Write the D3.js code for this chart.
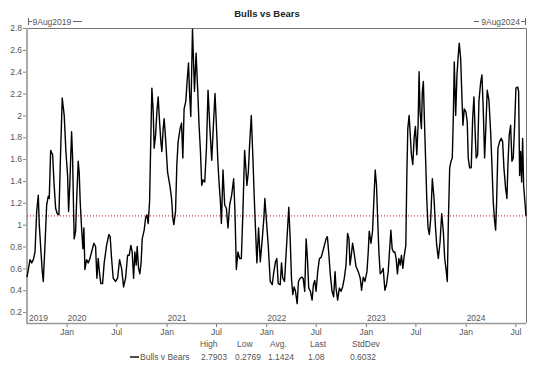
<!DOCTYPE html>
<html>
<head>
<meta charset="utf-8">
<script src="https://cdn.jsdelivr.net/npm/d3@7"></script>
<style>
  body { margin: 0; background: #fff; }
  svg { display: block; font-family: "Liberation Sans", Arial, sans-serif; }
</style>
</head>
<body>
<svg id="chart" width="534" height="370"></svg>
<script>
// time in decimal years
const t2019 = [2019.603, 2019.633, 2019.650, 2019.666, 2019.683, 2019.700, 2019.716, 2019.726, 2019.743, 2019.756,
  2019.766, 2019.783, 2019.800, 2019.816, 2019.826, 2019.840, 2019.860, 2019.873, 2019.890, 2019.906,
  2019.923, 2019.940, 2019.956, 2019.976, 2019.993];
const v2019 = [0.52, 0.68, 0.65, 0.68, 0.75, 1.12, 1.27, 1.0, 0.75, 0.57,
  0.48, 0.81, 1.18, 1.26, 1.24, 1.68, 1.64, 1.39, 1.15, 1.10,
  1.09, 1.67, 2.16, 2.0, 1.67];

const t2020 = [2020.010, 2020.020, 2020.033, 2020.050, 2020.060, 2020.070, 2020.076, 2020.090, 2020.100, 2020.116,
  2020.126, 2020.136, 2020.150, 2020.163, 2020.173, 2020.183, 2020.200, 2020.216, 2020.233, 2020.250,
  2020.273, 2020.290, 2020.303, 2020.316, 2020.330, 2020.343, 2020.360, 2020.376, 2020.400, 2020.423,
  2020.436, 2020.450, 2020.466, 2020.490, 2020.510, 2020.530, 2020.550, 2020.570, 2020.590, 2020.610,
  2020.626, 2020.643, 2020.656, 2020.670, 2020.683, 2020.696, 2020.706, 2020.720, 2020.733, 2020.746,
  2020.756, 2020.776, 2020.790, 2020.803, 2020.816, 2020.830, 2020.840, 2020.853, 2020.866, 2020.876,
  2020.890, 2020.903, 2020.916, 2020.930, 2020.943, 2020.953, 2020.966, 2020.976, 2020.990];
const v2020 = [1.45, 1.12, 1.39, 1.85, 1.61, 1.12, 0.87, 0.94, 1.21, 1.58,
  1.48, 1.21, 0.97, 0.78, 0.97, 0.59, 0.68, 0.65, 0.69, 0.75,
  0.83, 0.80, 0.51, 0.69, 0.55, 0.46, 0.46, 0.65, 0.81, 0.91,
  0.89, 0.69, 0.51, 0.48, 0.51, 0.68, 0.60, 0.43, 0.51, 0.72,
  0.72, 0.81, 0.75, 0.51, 0.75, 0.63, 0.80, 0.60, 0.55, 0.66,
  0.87, 0.95, 1.06, 1.09, 1.01, 1.21, 1.67, 2.25, 2.04, 1.70,
  1.82, 2.03, 2.17, 1.94, 1.76, 1.67, 1.88, 1.97, 1.79];

const t2021 = [2021.010, 2021.033, 2021.050, 2021.063, 2021.073, 2021.090, 2021.103, 2021.116, 2021.136, 2021.150,
  2021.163, 2021.176, 2021.193, 2021.206, 2021.220, 2021.230, 2021.243, 2021.260, 2021.280, 2021.296,
  2021.313, 2021.326, 2021.340, 2021.353, 2021.366, 2021.383, 2021.400, 2021.416, 2021.433, 2021.453,
  2021.473, 2021.486, 2021.500, 2021.513, 2021.526, 2021.540, 2021.550, 2021.566, 2021.583, 2021.600,
  2021.616, 2021.633, 2021.653, 2021.673, 2021.686, 2021.700, 2021.716, 2021.733, 2021.750, 2021.766,
  2021.783, 2021.793, 2021.806, 2021.820, 2021.833, 2021.850, 2021.866, 2021.880, 2021.893, 2021.906,
  2021.923, 2021.940, 2021.960, 2021.976, 2021.986];
const v2021 = [1.48, 1.36, 1.24, 1.06, 1.0, 1.12, 1.55, 1.76, 1.88, 1.93,
  1.61, 2.06, 2.13, 2.31, 2.48, 2.22, 1.99, 2.79, 2.22, 2.57,
  2.22, 1.91, 1.67, 1.36, 1.41, 1.39, 1.70, 2.23, 1.91, 1.59,
  1.97, 2.20, 1.91, 1.61, 1.39, 1.21, 1.01, 1.50, 1.18, 1.15,
  0.97, 1.18, 1.27, 1.42, 1.12, 0.59, 0.75, 0.69, 0.69, 1.12,
  1.68, 1.55, 1.36, 1.48, 1.73, 2.0, 1.61, 1.24, 0.94, 0.65,
  0.97, 0.66, 0.87, 1.06, 1.24];

const t2022 = [2022.000, 2022.020, 2022.040, 2022.060, 2022.076, 2022.093, 2022.106, 2022.120, 2022.140, 2022.153,
  2022.166, 2022.183, 2022.200, 2022.216, 2022.226, 2022.240, 2022.253, 2022.266, 2022.280, 2022.293,
  2022.310, 2022.323, 2022.340, 2022.356, 2022.370, 2022.386, 2022.400, 2022.413, 2022.426, 2022.443,
  2022.460, 2022.473, 2022.486, 2022.500, 2022.516, 2022.533, 2022.550, 2022.566, 2022.583, 2022.600,
  2022.613, 2022.626, 2022.643, 2022.660, 2022.676, 2022.690, 2022.700, 2022.716, 2022.733, 2022.750,
  2022.766, 2022.783, 2022.800, 2022.816, 2022.830, 2022.840, 2022.853, 2022.866, 2022.880, 2022.900,
  2022.923, 2022.943, 2022.956, 2022.973, 2022.990];
const v2022 = [1.06, 0.81, 0.48, 0.45, 0.57, 0.66, 0.69, 0.46, 0.45, 0.65,
  0.51, 0.48, 0.75, 1.0, 1.16, 0.87, 0.51, 0.36, 0.43, 0.39,
  0.277, 0.48, 0.51, 0.52, 0.51, 0.39, 0.87, 0.69, 0.42, 0.39,
  0.31, 0.45, 0.49, 0.39, 0.57, 0.69, 0.70, 0.75, 0.81, 0.87,
  0.89, 0.75, 0.54, 0.39, 0.34, 0.57, 0.42, 0.31, 0.42, 0.39,
  0.43, 0.51, 0.63, 0.92, 0.87, 0.63, 0.72, 0.83, 0.75, 0.62,
  0.57, 0.51, 0.40, 0.52, 0.48];

const t2023 = [2023.010, 2023.023, 2023.033, 2023.050, 2023.066, 2023.083, 2023.093, 2023.106, 2023.116, 2023.130,
  2023.143, 2023.160, 2023.173, 2023.190, 2023.206, 2023.223, 2023.236, 2023.250, 2023.263, 2023.276,
  2023.290, 2023.303, 2023.316, 2023.330, 2023.343, 2023.356, 2023.370, 2023.383, 2023.400, 2023.410,
  2023.420, 2023.433, 2023.443, 2023.456, 2023.470, 2023.483, 2023.496, 2023.510, 2023.523, 2023.533,
  2023.543, 2023.556, 2023.566, 2023.576, 2023.586, 2023.600, 2023.610, 2023.623, 2023.636, 2023.650,
  2023.666, 2023.683, 2023.696, 2023.710, 2023.726, 2023.743, 2023.760, 2023.776, 2023.790, 2023.806,
  2023.816, 2023.826, 2023.840, 2023.853, 2023.866, 2023.876, 2023.886, 2023.900, 2023.913, 2023.926,
  2023.936, 2023.950, 2023.963, 2023.973, 2023.986];
const v2023 = [0.57, 0.75, 0.94, 0.83, 0.94, 1.30, 1.50, 1.36, 1.09, 0.75,
  0.55, 0.57, 0.60, 0.40, 0.45, 0.57, 0.75, 0.95, 0.78, 0.75,
  0.75, 0.69, 0.55, 0.69, 0.63, 0.72, 0.60, 0.71, 0.81, 1.45,
  1.88, 2.0, 1.85, 1.64, 1.55, 1.79, 1.90, 1.64, 1.91, 2.40,
  2.03, 1.88, 2.22, 2.31, 1.97, 1.55, 1.24, 0.97, 0.91, 1.06,
  1.42, 1.24, 1.0, 0.81, 0.69, 0.84, 1.10, 0.94, 0.69, 0.57,
  0.48, 1.0, 1.52, 1.58, 1.61, 1.97, 2.49, 2.0, 2.37, 2.55,
  2.66, 2.52, 2.16, 1.91, 2.06];

const t2024 = [2024.003, 2024.016, 2024.026, 2024.040, 2024.056, 2024.070, 2024.083, 2024.096, 2024.106, 2024.120,
  2024.133, 2024.150, 2024.163, 2024.176, 2024.190, 2024.203, 2024.216, 2024.233, 2024.250, 2024.263,
  2024.276, 2024.290, 2024.300, 2024.310, 2024.323, 2024.340, 2024.356, 2024.370, 2024.383, 2024.400,
  2024.413, 2024.423, 2024.436, 2024.450, 2024.463, 2024.476, 2024.490, 2024.503, 2024.520, 2024.530,
  2024.540, 2024.550, 2024.560, 2024.570, 2024.580, 2024.604];
const v2024 = [2.03, 1.94, 1.61, 1.52, 1.52, 1.97, 2.17, 1.82, 1.61, 1.64,
  2.13, 2.30, 2.37, 2.06, 1.61, 1.91, 2.23, 2.14, 1.85, 1.55,
  1.21, 1.03, 0.95, 1.21, 1.70, 1.76, 1.79, 1.76, 1.52, 1.33,
  1.24, 1.55, 1.82, 1.91, 1.58, 1.61, 1.91, 2.25, 2.26, 2.22,
  1.45, 1.67, 1.39, 1.79, 1.36, 1.08];

const yTicks = [0.2, 0.4, 0.6, 0.8, 1, 1.2, 1.4, 1.6, 1.8, 2, 2.2, 2.4, 2.6, 2.8];
const years = [2020, 2021, 2022, 2023, 2024];
const statNames = ['High', 'Low', 'Avg.', 'Last', 'StdDev'];
const statValues = ['2.7903', '0.2769', '1.1424', '1.08', '0.6032'];
const lastValue = 1.08;

function toDate(y) {
  const yr = Math.floor(y);
  const a = Date.UTC(yr, 0, 1), b = Date.UTC(yr + 1, 0, 1);
  return new Date(a + (y - yr) * (b - a));
}

const times = [].concat(t2019, t2020, t2021, t2022, t2023, t2024);
const vals = [].concat(v2019, v2020, v2021, v2022, v2023, v2024);
const data = times.map((t, i) => ({ date: toDate(t), value: vals[i] }));

const svg = d3.select('#chart');
const pLeft = 27, pRight = 526, pTop = 28, pBottom = 323;
const startDate = new Date(Date.UTC(2019, 7, 9));
const endDate = new Date(Date.UTC(2024, 7, 9));

const x = d3.scaleUtc().domain([startDate, endDate]).range([pLeft, pRight]);
const y = d3.scaleLinear().domain([0.1, 2.8]).range([pBottom, pTop]);

const grey = '#555';
const ff = '"Liberation Sans", Arial, sans-serif';

// title
svg.append('text')
  .attr('x', 267).attr('y', 17)
  .attr('text-anchor', 'middle')
  .style('font-size', '9.5px').style('font-weight', 'bold')
  .attr('fill', '#222')
  .text('Bulls vs Bears');

// frame: top + right
svg.append('path')
  .attr('d', `M${pLeft},${pTop + 0.5}H${pRight + 0.5}V${pBottom}`)
  .attr('fill', 'none').attr('stroke', '#777').attr('stroke-width', 1);

// date range markers
const mark = svg.append('g').attr('stroke', '#666').attr('fill', 'none');
mark.append('path').attr('d', 'M28.5,18V25M28.5,21.5H32M73,21.5H82');
mark.append('path').attr('d', 'M525.5,18V25M525.5,21.5H521M479,21.5H474');
svg.append('text').attr('x', 32.5).attr('y', 24.5)
  .style('font-size', '8.5px').attr('fill', grey).text('9Aug2019');
svg.append('text').attr('x', 520).attr('y', 24.5).attr('text-anchor', 'end')
  .style('font-size', '8.5px').attr('fill', grey).text('9Aug2024');

// y axis
const yAxis = svg.append('g')
  .attr('transform', `translate(${pLeft},0)`)
  .call(d3.axisLeft(y).tickValues(yTicks).tickSize(4).tickPadding(1)
    .tickFormat(d => String(+d.toFixed(1))));
yAxis.select('.domain').remove();
yAxis.selectAll('line').attr('stroke', '#888');
yAxis.selectAll('text').attr('fill', grey).style('font-size', '8.5px').style('font-family', ff);
svg.append('line')
  .attr('x1', pLeft).attr('x2', pLeft).attr('y1', pTop).attr('y2', pBottom + 1)
  .attr('stroke', '#aaa').attr('stroke-width', 2);

// x axis: Jan / Jul
const xAxis = svg.append('g')
  .attr('transform', `translate(0,${pBottom})`)
  .call(d3.axisBottom(x).ticks(d3.utcMonth.every(6)).tickSize(4).tickPadding(2)
    .tickFormat(d3.utcFormat('%b')));
xAxis.select('.domain').remove();
xAxis.selectAll('line').attr('stroke', '#777');
xAxis.selectAll('text').attr('fill', grey).style('font-size', '8.5px').style('font-family', ff);
svg.append('line')
  .attr('x1', pLeft).attr('x2', pRight).attr('y1', pBottom + 0.5).attr('y2', pBottom + 0.5)
  .attr('stroke', '#999').attr('stroke-width', 1.5);

// year labels inside the plot
svg.append('text').attr('x', pLeft + 2).attr('y', 320.5)
  .style('font-size', '8.5px').attr('fill', grey).text('2019');
svg.selectAll('.yr').data(years).enter().append('text')
  .attr('class', 'yr')
  .attr('x', d => x(new Date(Date.UTC(d, 0, 1))) + 1)
  .attr('y', 320.5)
  .style('font-size', '8.5px').attr('fill', grey)
  .text(d => d);

// last value line
svg.append('line')
  .attr('x1', pLeft).attr('x2', pRight)
  .attr('y1', y(lastValue)).attr('y2', y(lastValue))
  .attr('stroke', '#d00').attr('stroke-width', 1)
  .attr('stroke-dasharray', '1,2');

// series
svg.append('path')
  .datum(data)
  .attr('fill', 'none').attr('stroke', '#000').attr('stroke-width', 1.4)
  .attr('stroke-linejoin', 'round')
  .attr('d', d3.line().x(d => x(d.date)).y(d => y(d.value)));

// legend
const statX = [200, 237, 270, 310, 352];
const valX = [201, 235, 268, 308, 350];
svg.selectAll('.sn').data(statNames).enter().append('text')
  .attr('class', 'sn')
  .attr('x', (d, i) => statX[i]).attr('y', 347)
  .style('font-size', '8.5px').attr('fill', grey).text(d => d);
svg.selectAll('.sv').data(statValues).enter().append('text')
  .attr('class', 'sv')
  .attr('x', (d, i) => valX[i]).attr('y', 360)
  .style('font-size', '8.5px').attr('fill', grey).text(d => d);
svg.append('line')
  .attr('x1', 130).attr('x2', 139).attr('y1', 357).attr('y2', 357)
  .attr('stroke', '#000').attr('stroke-width', 1.4);
svg.append('text').attr('x', 140).attr('y', 360)
  .style('font-size', '8.5px').attr('fill', grey).text('Bulls v Bears');
</script>
</body>
</html>
